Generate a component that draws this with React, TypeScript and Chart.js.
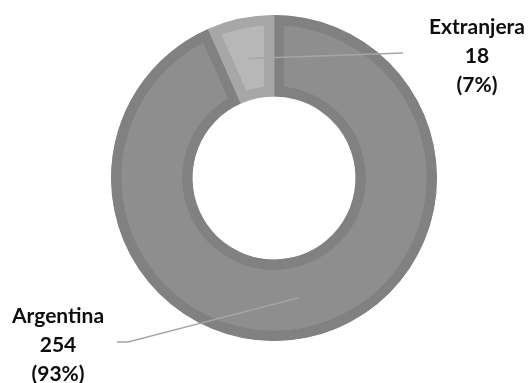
import React, { useEffect, useRef } from "react";
import { Chart, registerables } from "chart.js";

Chart.register(...registerables);

const categories = ["Argentina", "Extranjera"];
const values = [254, 18];
const percents = ["93%", "7%"];
const fillColors = ["#8e8e8e", "#b7b7b7"];
const borderColors = ["#818181", "#a7a7a7"];

const FONT = "bold 21px Lato, 'Open Sans', sans-serif";

const labelPlugin = {
  id: "leaderLabels",
  afterDraw(chart: any) {
    const ctx = chart.ctx;
    const meta = chart.getDatasetMeta(0);
    const arcs = meta.data;
    const layouts = [
      { tx: 58, ty: 323, path: [[128, 342], [117, 342]] },
      { tx: 477, ty: 34, path: [[403, 53]] },
    ];
    ctx.save();
    arcs.forEach((arc: any, i: number) => {
      const p = arc.tooltipPosition();
      const L = layouts[i];
      ctx.strokeStyle = "#a6a6a6";
      ctx.lineWidth = 1.5;
      ctx.beginPath();
      ctx.moveTo(p.x, p.y);
      L.path.forEach((q) => ctx.lineTo(q[0], q[1]));
      ctx.stroke();
      ctx.fillStyle = "#0d0d0d";
      ctx.font = FONT;
      ctx.textAlign = "center";
      ctx.textBaseline = "alphabetic";
      const lines = [categories[i], String(values[i]), "(" + percents[i] + ")"];
      lines.forEach((t, k) => ctx.fillText(t, L.tx, L.ty + k * 29));
    });
    ctx.restore();
  },
};

export default function App() {
  const ref = useRef<HTMLCanvasElement>(null);
  useEffect(() => {
    const chart = new Chart(ref.current!, {
      type: "doughnut",
      data: {
        labels: categories,
        datasets: [
          {
            data: values,
            backgroundColor: fillColors,
            borderColor: borderColors,
            borderWidth: 10,
            borderAlign: "inner",
          } as any,
        ],
      },
      options: {
        responsive: false,
        animation: false,
        cutout: "50%",
        layout: { padding: { left: 111, right: 92, top: 15, bottom: 42 } },
        plugins: { legend: { display: false }, tooltip: { enabled: false } },
      },
      plugins: [labelPlugin],
    });
    return () => chart.destroy();
  }, []);
  return (
    <div style={{ position: "fixed", left: 0, top: 0, width: 529, height: 383, background: "#fff" }}>
      <canvas ref={ref} width={529} height={383} />
    </div>
  );
}
